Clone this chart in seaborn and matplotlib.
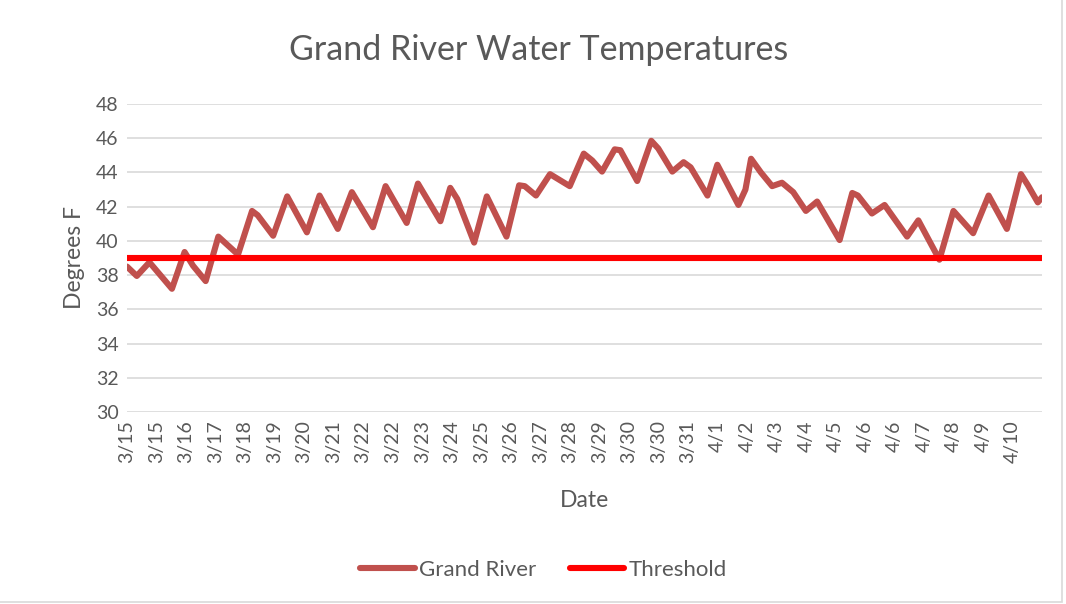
import numpy as np
import pandas as pd
import seaborn as sns
import matplotlib.pyplot as plt
from matplotlib.patches import Rectangle

# hours since first reading, and water temperature (deg F) at the turning points
hours = [0, 7, 16, 32, 41, 47, 56, 65, 79, 89, 93, 104, 114, 128, 137, 150, 160, 175,
         184, 199, 207, 223, 230, 235, 247, 256, 270, 279, 283, 291, 301, 307, 315, 325,
         331, 338, 347, 351, 363, 373, 378, 388, 396, 401, 413, 420, 435, 440, 444, 451,
         459, 466, 474, 483, 491, 507, 516, 520, 530, 539, 555, 563, 578, 588, 602, 613,
         626, 636, 641, 648, 651]
temp_f = [38.5, 37.95, 38.75, 37.2, 39.35, 38.55, 37.65, 40.25, 39.2, 41.75, 41.5, 40.3,
          42.6, 40.5, 42.65, 40.7, 42.85, 40.8, 43.2, 41.05, 43.35, 41.15, 43.1, 42.45,
          39.9, 42.6, 40.25, 43.25, 43.2, 42.65, 43.9, 43.6, 43.2, 45.1, 44.7, 44.05, 45.35,
          45.3, 43.5, 45.85, 45.4, 44.05, 44.6, 44.3, 42.65, 44.45, 42.1, 43.0, 44.8, 44.0,
          43.2, 43.4, 42.85, 41.75, 42.3, 40.05, 42.8, 42.65, 41.6, 42.1, 40.25, 41.2, 38.9,
          41.75, 40.45, 42.65, 40.7, 43.9, 43.25, 42.25, 42.55]
threshold = 39.0

tick_hours = list(range(0, 631, 21))
tick_labels = ['3/15', '3/15', '3/16', '3/17', '3/18', '3/19', '3/20', '3/21', '3/22', '3/22',
               '3/23', '3/24', '3/25', '3/26', '3/27', '3/28', '3/29', '3/30', '3/30', '3/31',
               '4/1', '4/2', '4/3', '4/4', '4/5', '4/6', '4/6', '4/7', '4/8', '4/9', '4/10']

df = pd.DataFrame({'Hour': hours, 'Temp': temp_f})

sns.set_theme(style="white")
plt.rcParams['font.family'] = ['Lato', 'DejaVu Sans']
txt = '#595959'

fig = plt.figure(figsize=(10.66, 6.04), dpi=100)
ax = fig.add_axes([0.1191, 0.3179, 0.8584, 0.5099])

sns.lineplot(data=df, x='Hour', y='Temp', ax=ax, color='#C0504D', linewidth=4.4,
             label='Grand River', solid_capstyle='round', solid_joinstyle='round')
sns.lineplot(x=[hours[0], hours[-1]], y=[threshold, threshold], ax=ax, color='#FF0000',
             linewidth=4.4, label='Threshold', solid_capstyle='round')

ax.set_xlim(hours[0], hours[-1])
ax.set_ylim(30, 48)
ax.set_yticks(np.arange(30, 49, 2))
ax.set_xticks(tick_hours)
ax.set_xticklabels(tick_labels, rotation=90)
ax.tick_params(axis='both', labelsize=14, colors=txt, length=0, pad=6)
ax.yaxis.grid(True, color='#D9D9D9', linewidth=1.2)
ax.set_axisbelow(True)
for s in ax.spines.values():
    s.set_visible(False)

fig.text(0.505, 0.917, 'Grand River Water Temperatures', fontsize=24.5, color=txt,
         ha='center', va='center')
ax.set_xlabel('Date', fontsize=16.5, color=txt, labelpad=19)
ax.set_ylabel('Degrees F', fontsize=16.5, color=txt, labelpad=8)

leg = ax.legend(loc='center', bbox_to_anchor=(0.51, 0.056), bbox_transform=fig.transFigure,
                ncol=2, frameon=False, fontsize=16, handlelength=2.45, handletextpad=0.2,
                columnspacing=1.5)
for t in leg.get_texts():
    t.set_color(txt)

fig.patches.append(Rectangle((-0.01, 0.004), 1.006, 1.1, transform=fig.transFigure,
                             fill=False, edgecolor='#D9D9D9', linewidth=1.2))

fig.savefig('out.png', dpi=100, facecolor='white')
